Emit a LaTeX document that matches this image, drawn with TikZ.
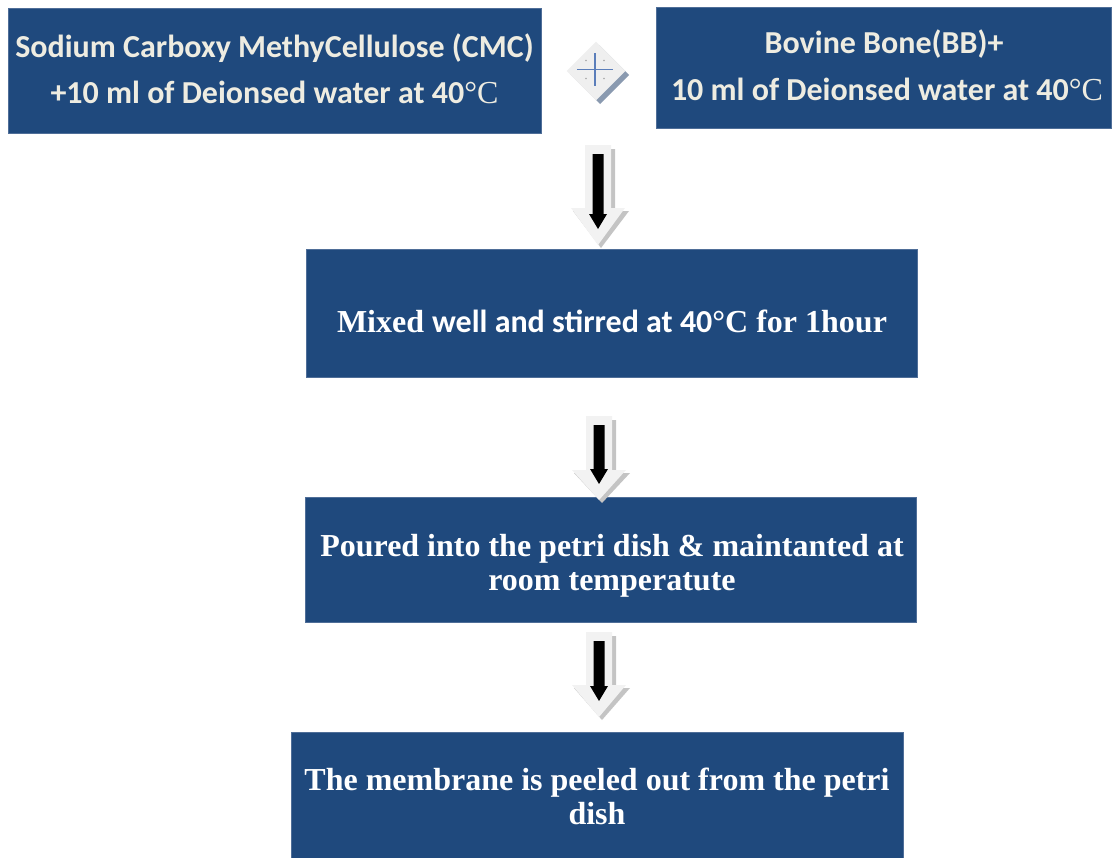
\documentclass[tikz,border=0pt]{standalone}
\usepackage{fontspec}
\setmainfont{Liberation Serif}
\newfontfamily\calfont{Carlito}
\newfontfamily\tmsfont{Liberation Serif}
\usetikzlibrary{shapes.geometric}
\definecolor{boxblue}{HTML}{1F497D}
\definecolor{boxedge}{HTML}{4F6E98}
\definecolor{cream}{HTML}{EEECE1}
\definecolor{arrface}{HTML}{F2F2F2}
\definecolor{arrshade}{HTML}{C4C4C4}
\definecolor{plusblue}{HTML}{5B7EBA}
\definecolor{diashade}{HTML}{8A9AB0}
\definecolor{diaface}{HTML}{EFEFEF}
\tikzset{
  stepbox/.style={draw=boxedge, line width=0.8pt, fill=boxblue, inner sep=0pt},
  caltext/.style={text=cream, inner sep=0pt, anchor=base, font=\calfont\bfseries\fontsize{32}{38}\selectfont},
  tmstext/.style={text=white, inner sep=0pt, anchor=base, font=\tmsfont\bfseries\fontsize{32}{35}\selectfont},
  blockface/.style={fill=arrface},
  blockshade/.style={fill=arrshade},
  blackarrow/.style={fill=black},
}
\newcommand\degC{{\tmsfont\mdseries °C}}
% #1 x centre, #2 shaft top, #3 head top, #4 tip
\newcommand\blockarrow[4]{%
  \fill[blockshade] (#1-9,#2+4) -- (#1+17,#2+4) -- (#1+17,#3+3) -- (#1+31,#3+3) -- (#1+3,#4+3) -- (#1-25,#3+3) -- (#1-9,#3+3) -- cycle;
  \fill[blockface] (#1-13,#2) -- (#1+13,#2) -- (#1+13,#3) -- (#1+27,#3) -- (#1,#4) -- (#1-27,#3) -- (#1-13,#3) -- cycle;
  \fill[blackarrow] (#1-5.5,#2+9) -- (#1+5.5,#2+9) -- (#1+5.5,#4-31) -- (#1+9,#4-31) -- (#1,#4-16) -- (#1-9,#4-31) -- (#1-5.5,#4-31) -- cycle;
}
\begin{document}
\begin{tikzpicture}[x=1pt,y=-1pt]
\useasboundingbox (0,0) rectangle (1113,857);
% boxes
\node[stepbox, minimum width=533pt, minimum height=125pt] (b1) at (274.5,70.5) {};
\node[stepbox, minimum width=455pt, minimum height=121pt] (b2) at (883.5,67.5) {};
\node[stepbox, minimum width=611pt, minimum height=128pt] (b3) at (611.5,313) {};
\node[stepbox, minimum width=611pt, minimum height=125pt] (b4) at (610.5,559.5) {};
\node[stepbox, minimum width=612pt, minimum height=128pt] (b5) at (597,796) {};
% texts
\node[caltext] (t1a) at (274.5,57) {Sodium Carboxy MethyCellulose (CMC)};
\node[caltext] (t1b) at (274.5,103) {+10 ml of Deionsed water at 40\degC};
\node[caltext] (t2a) at (884,53) {Bovine Bone(BB)+};
\node[caltext] (t2b) at (887,100) {10 ml of Deionsed water at 40\degC};
\node[tmstext] (t3) at (612,332) {Mixed {\calfont\fontsize{32}{38}\selectfont well and stirred at 40}°C for 1hour};
\node[tmstext] (t4a) at (612,556) {Poured into the petri dish \& maintanted at};
\node[tmstext] (t4b) at (612,590) {room temperatute};
\node[tmstext] (t5a) at (597,790) {The membrane is peeled out from the petri};
\node[tmstext] (t5b) at (597,824) {dish};
% plus diamond
\fill[diashade] (599,45) -- (629,75) -- (600,104) -- (570,74) -- cycle;
\node[diamond, fill=diaface, minimum width=59pt, minimum height=59pt, inner sep=0pt] (plus) at (596,71) {};
\draw[plusblue, line width=1.8pt] (577,69.5) -- (613,69.5) (595,53) -- (595,86);
\foreach \dx/\dy in {-9/-9,9/-9,-9/9,9/9}
  \fill[gray!70] (595+\dx,69.5+\dy) circle (0.8pt);
% arrows
\blockarrow{598}{145}{208}{245}
\blockarrow{599}{416}{470}{500}
\blockarrow{599}{632}{685}{717}
\end{tikzpicture}
\end{document}
